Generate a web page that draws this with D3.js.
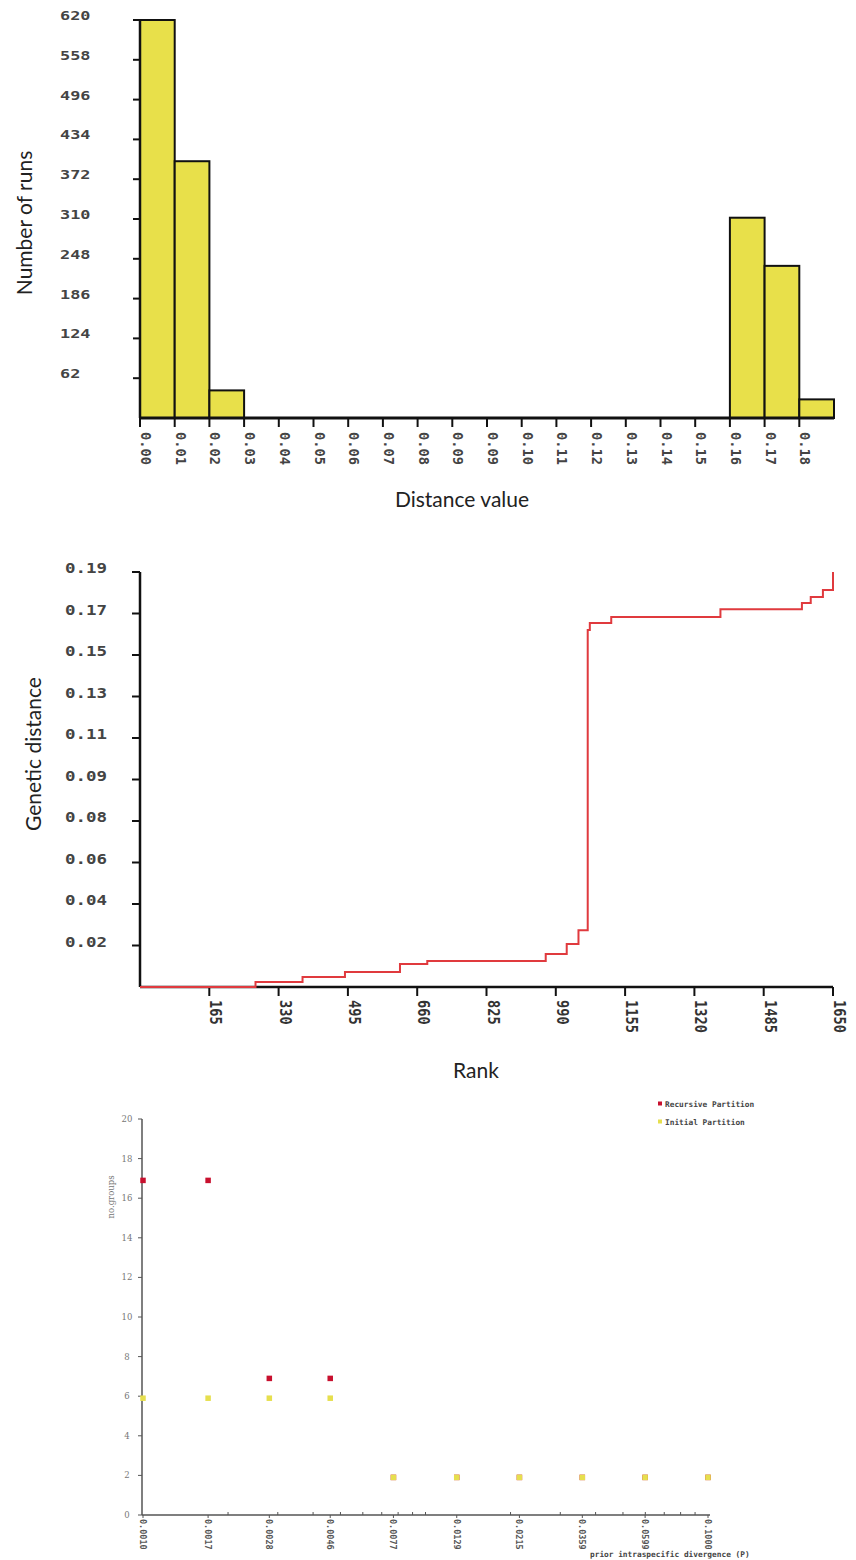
<!DOCTYPE html>
<html>
<head>
<meta charset="utf-8">
<script src="https://cdn.jsdelivr.net/npm/d3@7/dist/d3.min.js"></script>
<style>
  body { margin: 0; background: #fff; }
  svg { display: block; background: #fff; }
</style>
</head>
<body>
<svg id="chart" width="856" height="1560"></svg>
<script>
// ---------- DATA ----------
// Histogram (distance value bins, width 0.0095)
const histBinLabels = ["0.00","0.01","0.02","0.03","0.04","0.05","0.06","0.07","0.08","0.09",
                       "0.09","0.10","0.11","0.12","0.13","0.14","0.15","0.16","0.17","0.18"];
const histCounts = [620, 400, 43, 0, 0, 0, 0, 0, 0, 0, 0, 0, 0, 0, 0, 0, 0, 312, 237, 29];
const histYTicks = [62, 124, 186, 248, 310, 372, 434, 496, 558, 620];

// Ranked genetic distances (step line)
const rankSteps = [0, 275, 387, 488, 619, 684, 966, 1016, 1044, 1066, 1071, 1122, 1382, 1576, 1597, 1626, 1650];
const distSteps = [0, 0.0023, 0.0046, 0.0069, 0.0105, 0.0119, 0.0151, 0.0197, 0.026, 0.1635, 0.1666, 0.1694, 0.173, 0.1758, 0.1786, 0.1818, 0.19];
const distYTickLabels = ["0.02","0.04","0.06","0.08","0.09","0.11","0.13","0.15","0.17","0.19"];
const rankXTicks = [165, 330, 495, 660, 825, 990, 1155, 1320, 1485, 1650];

// Partition scatter
const priorP = [0.0010, 0.0017, 0.0028, 0.0046, 0.0077, 0.0129, 0.0215, 0.0359, 0.0599, 0.1000];
const priorPLabels = ["0.0010","0.0017","0.0028","0.0046","0.0077","0.0129","0.0215","0.0359","0.0599","0.1000"];
const recursiveGroups = [17, 17, 7, 7, 2, 2, 2, 2, 2, 2];
const initialGroups = [6, 6, 6, 6, 2, 2, 2, 2, 2, 2];
const groupYTicks = [0, 2, 4, 6, 8, 10, 12, 14, 16, 18, 20];
const seriesNames = ["Recursive Partition", "Initial Partition"];

// ---------- DRAW ----------
const svg = d3.select("#chart");
const MONO = "'DejaVu Sans Mono', 'Liberation Mono', monospace";
const SANS = "Lato, 'Open Sans', sans-serif";

// ===== Chart 1: histogram =====
(function () {
  const g = svg.append("g");
  const binW = 0.0095;
  const x = d3.scaleLinear().domain([0, 0.19]).range([140, 834]);
  const y = d3.scaleLinear().domain([0, 620]).range([418, 20]);

  const bins = histCounts.map((c, i) => ({ x0: i * binW, x1: (i + 1) * binW, c }));
  g.selectAll("rect.bar").data(bins.filter(d => d.c > 0)).enter().append("rect")
    .attr("class", "bar")
    .attr("x", d => x(d.x0))
    .attr("y", d => y(d.c))
    .attr("width", d => x(d.x1) - x(d.x0))
    .attr("height", d => y(0) - y(d.c))
    .attr("fill", "#e8e04a")
    .attr("stroke", "#111")
    .attr("stroke-width", 2);

  // y axis line + ticks
  g.append("line").attr("x1", x(0)).attr("x2", x(0)).attr("y1", y(620)).attr("y2", y(0))
    .attr("stroke", "#111").attr("stroke-width", 2.5);
  g.selectAll("line.yt").data(histYTicks).enter().append("line")
    .attr("x1", x(0) - 7).attr("x2", x(0)).attr("y1", d => y(d)).attr("y2", d => y(d))
    .attr("stroke", "#111").attr("stroke-width", 2);
  g.selectAll("text.yl").data(histYTicks).enter().append("text")
    .attr("transform", d => `translate(60,${y(d)}) scale(1.35,1)`)
    .attr("font-family", MONO).attr("font-weight", "bold").attr("font-size", 12.5)
    .attr("fill", "#444").text(d => d);

  // x axis line + ticks
  g.append("line").attr("x1", x(0)).attr("x2", x(0.19)).attr("y1", y(0)).attr("y2", y(0))
    .attr("stroke", "#111").attr("stroke-width", 3);
  const tickVals = histBinLabels.map((l, i) => i * binW);
  g.selectAll("line.xt").data(tickVals).enter().append("line")
    .attr("x1", d => x(d)).attr("x2", d => x(d)).attr("y1", y(0)).attr("y2", y(0) + 9)
    .attr("stroke", "#111").attr("stroke-width", 2);
  g.selectAll("text.xl").data(histBinLabels).enter().append("text")
    .attr("transform", (d, i) => `translate(${x(tickVals[i]) + 1},432) rotate(90)`)
    .attr("font-family", MONO).attr("font-weight", "bold").attr("font-size", 13.7)
    .attr("fill", "#444").text(d => d);

  g.append("text").attr("transform", "translate(32,223) rotate(-90)")
    .attr("text-anchor", "middle").attr("font-family", SANS).attr("font-size", 21)
    .attr("fill", "#222").text("Number of runs");
  g.append("text").attr("x", 462).attr("y", 507)
    .attr("text-anchor", "middle").attr("font-family", SANS).attr("font-size", 21)
    .attr("fill", "#222").text("Distance value");
})();

// ===== Chart 2: ranked distances =====
(function () {
  const g = svg.append("g");
  const x = d3.scaleLinear().domain([0, 1650]).range([140, 833]);
  const y = d3.scaleLinear().domain([0, 0.19]).range([987, 572]);
  const yTickVals = distYTickLabels.map((l, i) => 0.019 * (i + 1));

  g.append("line").attr("x1", x(0)).attr("x2", x(0)).attr("y1", y(0.19)).attr("y2", y(0))
    .attr("stroke", "#111").attr("stroke-width", 2.5);
  g.selectAll("line.yt").data(yTickVals).enter().append("line")
    .attr("x1", x(0) - 8).attr("x2", x(0)).attr("y1", d => y(d)).attr("y2", d => y(d))
    .attr("stroke", "#111").attr("stroke-width", 2);
  g.selectAll("text.yl").data(distYTickLabels).enter().append("text")
    .attr("transform", (d, i) => `translate(65,${y(yTickVals[i]) + 1}) scale(1.25,1)`)
    .attr("font-family", MONO).attr("font-weight", "bold").attr("font-size", 14)
    .attr("fill", "#444").text(d => d);

  g.append("line").attr("x1", x(0)).attr("x2", x(1650)).attr("y1", y(0)).attr("y2", y(0))
    .attr("stroke", "#111").attr("stroke-width", 2.5);
  g.selectAll("line.xt").data(rankXTicks).enter().append("line")
    .attr("x1", d => x(d)).attr("x2", d => x(d)).attr("y1", y(0)).attr("y2", y(0) + 9)
    .attr("stroke", "#111").attr("stroke-width", 2);
  g.selectAll("text.xl").data(rankXTicks).enter().append("text")
    .attr("transform", d => `translate(${x(d) + 1},1000) scale(1.15,1) rotate(90)`)
    .attr("font-family", MONO).attr("font-weight", "bold").attr("font-size", 13.7)
    .attr("fill", "#333").text(d => d);

  const pts = rankSteps.map((r, i) => [r, distSteps[i]]);
  const line = d3.line().x(d => x(d[0])).y(d => y(d[1])).curve(d3.curveStepAfter);
  g.append("path").datum(pts).attr("d", line)
    .attr("fill", "none").attr("stroke", "#e03a3e").attr("stroke-width", 2);

  g.append("text").attr("transform", "translate(41,754) rotate(-90)")
    .attr("text-anchor", "middle").attr("font-family", SANS).attr("font-size", 21)
    .attr("fill", "#222").text("Genetic distance");
  g.append("text").attr("x", 476).attr("y", 1078)
    .attr("text-anchor", "middle").attr("font-family", SANS).attr("font-size", 21)
    .attr("fill", "#222").text("Rank");
})();

// ===== Chart 3: partition scatter =====
(function () {
  const g = svg.append("g");
  const x = d3.scaleLog().domain([0.001, 0.1]).range([143, 708]);
  const y = d3.scaleLinear().domain([0, 20]).range([1515, 1119]);
  const axisCol = "#555";

  g.append("line").attr("x1", 142).attr("x2", 142).attr("y1", y(20)).attr("y2", y(0))
    .attr("stroke", axisCol).attr("stroke-width", 1.5);
  g.append("line").attr("x1", 142).attr("x2", 710).attr("y1", y(0)).attr("y2", y(0))
    .attr("stroke", axisCol).attr("stroke-width", 1.5);

  g.selectAll("line.yt").data(groupYTicks).enter().append("line")
    .attr("x1", 138).attr("x2", 142).attr("y1", d => y(d)).attr("y2", d => y(d))
    .attr("stroke", axisCol).attr("stroke-width", 1);
  g.selectAll("text.yl").data(groupYTicks).enter().append("text")
    .attr("x", 127).attr("y", d => y(d) + 3).attr("text-anchor", "middle")
    .attr("font-family", "'DejaVu Serif', 'Liberation Serif', serif").attr("font-size", 8.5)
    .attr("fill", "#777").text(d => d);

  // minor log ticks
  const minor = x.ticks().filter(v => v > 0.001 && v < 0.1);
  g.selectAll("line.mt").data(minor).enter().append("line")
    .attr("x1", d => x(d)).attr("x2", d => x(d)).attr("y1", y(0) - 3).attr("y2", y(0))
    .attr("stroke", axisCol).attr("stroke-width", 1);
  g.selectAll("line.xt").data(priorP).enter().append("line")
    .attr("x1", d => x(d)).attr("x2", d => x(d)).attr("y1", y(0)).attr("y2", y(0) + 3)
    .attr("stroke", axisCol).attr("stroke-width", 1);
  g.selectAll("text.xl").data(priorPLabels).enter().append("text")
    .attr("transform", (d, i) => `translate(${x(priorP[i]) - 3},1519) rotate(90)`)
    .attr("font-family", MONO).attr("font-weight", "bold").attr("font-size", 8.5)
    .attr("fill", "#555").text(d => d);

  const sq = 5.5;
  g.selectAll("rect.rec").data(priorP).enter().append("rect")
    .attr("x", (d) => x(d) - sq / 2).attr("y", (d, i) => y(recursiveGroups[i]) - sq / 2 + 2)
    .attr("width", sq).attr("height", sq).attr("fill", "#c8102e");
  g.selectAll("rect.ini").data(priorP).enter().append("rect")
    .attr("x", (d) => x(d) - sq / 2).attr("y", (d, i) => y(initialGroups[i]) - sq / 2 + 2)
    .attr("width", sq).attr("height", sq).attr("fill", "#e6df4e");

  // legend
  const legCols = ["#c8102e", "#e6df4e"];
  seriesNames.forEach((n, i) => {
    const ly = 1104 + i * 18;
    g.append("rect").attr("x", 658).attr("y", ly - 2.5).attr("width", 4).attr("height", 4).attr("fill", legCols[i]);
    g.append("text").attr("x", 665).attr("y", ly + 3)
      .attr("font-family", MONO).attr("font-weight", "bold").attr("font-size", 7.8)
      .attr("fill", "#444").text(n);
  });

  g.append("text").attr("transform", "translate(114,1197) rotate(-90)")
    .attr("text-anchor", "middle").attr("font-family", "'DejaVu Serif', serif").attr("font-size", 8.5)
    .attr("fill", "#777").text("no.groups");
  g.append("text").attr("x", 590).attr("y", 1557)
    .attr("font-family", MONO).attr("font-weight", "bold").attr("font-size", 7.8)
    .attr("fill", "#444").text("prior intraspecific divergence (P)");
})();
</script>
</body>
</html>
